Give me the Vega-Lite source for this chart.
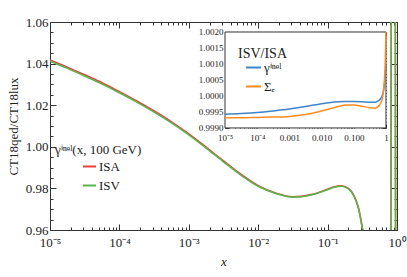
{
"$schema":"https://vega.github.io/schema/vega-lite/v6.json",
"width":347,"height":208,
"autosize":{"type":"none"},
"padding":{"left":50,"top":22,"right":10,"bottom":47},
"background":"white",
"config":{
  "view":{"stroke":"#333","strokeWidth":1},
  "font":"Liberation Serif",
  "axis":{"grid":false,"domain":false,"tickColor":"#333","tickWidth":1,"labelColor":"#222","titleColor":"#222","labelFont":"Liberation Serif","titleFont":"Liberation Serif","titleFontWeight":"normal","labelFlush":false,"labelOverlap":false,"labelBound":false,"zindex":1},
  "legend":{"labelFont":"Liberation Serif","titleFont":"Liberation Serif","titleFontWeight":"normal","labelColor":"#222","titleColor":"#222","padding":0}
},
"datasets":{
 "main":[
  {"x":0.00001,"v":1.0418,"s":"ISA"},{"x":0.0000177828,"v":1.0383,"s":"ISA"},{"x":0.0000316228,"v":1.0346,"s":"ISA"},{"x":0.0000562341,"v":1.0308,"s":"ISA"},
  {"x":0.0001,"v":1.0265,"s":"ISA"},{"x":0.000177828,"v":1.0220,"s":"ISA"},{"x":0.000316228,"v":1.0172,"s":"ISA"},{"x":0.000562341,"v":1.0120,"s":"ISA"},
  {"x":0.001,"v":1.0062,"s":"ISA"},{"x":0.00177828,"v":0.9998,"s":"ISA"},{"x":0.00316228,"v":0.9932,"s":"ISA"},{"x":0.00562341,"v":0.9868,"s":"ISA"},
  {"x":0.01,"v":0.9813,"s":"ISA"},{"x":0.0177828,"v":0.9778,"s":"ISA"},{"x":0.0316228,"v":0.9760,"s":"ISA"},{"x":0.0562341,"v":0.9769,"s":"ISA"},
  {"x":0.1,"v":0.9796,"s":"ISA"},{"x":0.125893,"v":0.9808,"s":"ISA"},{"x":0.158489,"v":0.9812,"s":"ISA"},{"x":0.199526,"v":0.9800,"s":"ISA"},
  {"x":0.239883,"v":0.9765,"s":"ISA"},{"x":0.281838,"v":0.9700,"s":"ISA"},{"x":0.316228,"v":0.9612,"s":"ISA"},{"x":0.354813,"v":0.9530,"s":"ISA"},
  {"x":0.446684,"v":0.93,"s":"ISA"},{"x":0.707946,"v":0.90,"s":"ISA"},{"x":0.812831,"v":0.90,"s":"ISA"},{"x":0.827942,"v":1.10,"s":"ISA"},
  {"x":0.944061,"v":1.10,"s":"ISA"},{"x":0.959401,"v":0.90,"s":"ISA"},{"x":1,"v":0.90,"s":"ISA"},
  {"x":0.00001,"v":1.0412,"s":"ISV"},{"x":0.0000177828,"v":1.0377,"s":"ISV"},{"x":0.0000316228,"v":1.0340,"s":"ISV"},{"x":0.0000562341,"v":1.0302,"s":"ISV"},
  {"x":0.0001,"v":1.02595,"s":"ISV"},{"x":0.000177828,"v":1.0215,"s":"ISV"},{"x":0.000316228,"v":1.0167,"s":"ISV"},{"x":0.000562341,"v":1.0115,"s":"ISV"},
  {"x":0.001,"v":1.00575,"s":"ISV"},{"x":0.00177828,"v":0.9994,"s":"ISV"},{"x":0.00316228,"v":0.9928,"s":"ISV"},{"x":0.00562341,"v":0.9864,"s":"ISV"},
  {"x":0.01,"v":0.9810,"s":"ISV"},{"x":0.0177828,"v":0.9776,"s":"ISV"},{"x":0.0316228,"v":0.9758,"s":"ISV"},{"x":0.0562341,"v":0.9767,"s":"ISV"},
  {"x":0.1,"v":0.9794,"s":"ISV"},{"x":0.125893,"v":0.9806,"s":"ISV"},{"x":0.158489,"v":0.9810,"s":"ISV"},{"x":0.199526,"v":0.9798,"s":"ISV"},
  {"x":0.239883,"v":0.9763,"s":"ISV"},{"x":0.281838,"v":0.9698,"s":"ISV"},{"x":0.316228,"v":0.9610,"s":"ISV"},{"x":0.354813,"v":0.9528,"s":"ISV"},
  {"x":0.446684,"v":0.93,"s":"ISV"},{"x":0.707946,"v":0.90,"s":"ISV"},{"x":0.812831,"v":0.90,"s":"ISV"},{"x":0.827942,"v":1.10,"s":"ISV"},
  {"x":0.944061,"v":1.10,"s":"ISV"},{"x":0.959401,"v":0.90,"s":"ISV"},{"x":1,"v":0.90,"s":"ISV"}
 ],
 "ratio":[
  {"x":0.00001,"r":0.99943,"s":"γⁱⁿᵉˡ"},{"x":0.0000316228,"r":0.99945,"s":"γⁱⁿᵉˡ"},{"x":0.0001,"r":0.99948,"s":"γⁱⁿᵉˡ"},{"x":0.000316228,"r":0.99953,"s":"γⁱⁿᵉˡ"},
  {"x":0.001,"r":0.99959,"s":"γⁱⁿᵉˡ"},{"x":0.00316228,"r":0.99967,"s":"γⁱⁿᵉˡ"},{"x":0.01,"r":0.99976,"s":"γⁱⁿᵉˡ"},{"x":0.0316228,"r":0.99982,"s":"γⁱⁿᵉˡ"},
  {"x":0.0562341,"r":0.99983,"s":"γⁱⁿᵉˡ"},{"x":0.1,"r":0.99983,"s":"γⁱⁿᵉˡ"},{"x":0.177828,"r":0.99982,"s":"γⁱⁿᵉˡ"},{"x":0.316228,"r":0.99980,"s":"γⁱⁿᵉˡ"},
  {"x":0.446684,"r":0.99980,"s":"γⁱⁿᵉˡ"},{"x":0.562341,"r":0.99984,"s":"γⁱⁿᵉˡ"},{"x":0.660693,"r":0.99990,"s":"γⁱⁿᵉˡ"},{"x":0.758578,"r":1.00000,"s":"γⁱⁿᵉˡ"},
  {"x":0.831764,"r":1.00015,"s":"γⁱⁿᵉˡ"},{"x":0.891251,"r":1.00035,"s":"γⁱⁿᵉˡ"},{"x":0.944061,"r":1.00060,"s":"γⁱⁿᵉˡ"},{"x":1,"r":1.00098,"s":"γⁱⁿᵉˡ"},
  {"x":0.00001,"r":0.99932,"s":"Σₑ"},{"x":0.0000316228,"r":0.99932,"s":"Σₑ"},{"x":0.0001,"r":0.99933,"s":"Σₑ"},{"x":0.000316228,"r":0.99934,"s":"Σₑ"},
  {"x":0.001,"r":0.99936,"s":"Σₑ"},{"x":0.00316228,"r":0.99942,"s":"Σₑ"},{"x":0.01,"r":0.99953,"s":"Σₑ"},{"x":0.0316228,"r":0.99966,"s":"Σₑ"},
  {"x":0.0562341,"r":0.99972,"s":"Σₑ"},{"x":0.1,"r":0.99972,"s":"Σₑ"},{"x":0.177828,"r":0.99968,"s":"Σₑ"},{"x":0.316228,"r":0.99963,"s":"Σₑ"},
  {"x":0.446684,"r":0.99962,"s":"Σₑ"},{"x":0.562341,"r":0.99966,"s":"Σₑ"},{"x":0.660693,"r":0.99975,"s":"Σₑ"},{"x":0.758578,"r":0.99990,"s":"Σₑ"},
  {"x":0.831764,"r":1.00015,"s":"Σₑ"},{"x":0.891251,"r":1.00050,"s":"Σₑ"},{"x":0.944061,"r":1.00100,"s":"Σₑ"},{"x":1,"r":1.00200,"s":"Σₑ"}
 ],
 "frame":[{"x0":0.00001,"x1":1,"y0":0.999,"y1":1.002}]
},
"layer":[
 {"data":{"name":"main"},
  "mark":{"type":"line","clip":true,"strokeWidth":1.6,"interpolate":"monotone"},
  "encoding":{
   "x":{"field":"x","type":"quantitative","scale":{"type":"log","domain":[0.00001,1],"nice":false},
        "axis":{"orient":"bottom","labelOverlap":false,"values":[0.00001,0.00002,0.00003,0.00004,0.00005,0.00006,0.00007,0.00008,0.00009,0.0001,0.0002,0.0003,0.0004,0.0005,0.0006,0.0007,0.0008,0.0009,0.001,0.002,0.003,0.004,0.005,0.006,0.007,0.008,0.009,0.01,0.02,0.03,0.04,0.05,0.06,0.07,0.08,0.09,0.1,0.2,0.3,0.4,0.5,0.6,0.7,0.8,0.9,1],
        "labelExpr":"datum.value === 0.00001 ? '10⁻⁵' : datum.value === 0.0001 ? '10⁻⁴' : datum.value === 0.001 ? '10⁻³' : datum.value === 0.01 ? '10⁻²' : datum.value === 0.1 ? '10⁻¹' : datum.value === 1 ? '10⁰' : ''",
        "tickSize":{"condition":{"test":"indexof([0.00001,0.0001,0.001,0.01,0.1,1], datum.value) >= 0","value":-6},"value":-3},
        "labelPadding":12,"labelFontSize":13,"title":"x","titleFontStyle":"italic","titleFontSize":13,"titlePadding":3}},
   "y":{"field":"v","type":"quantitative","scale":{"domain":[0.96,1.06],"nice":false,"zero":false},
        "axis":{"orient":"left","labelOverlap":false,"values":[0.96,0.965,0.97,0.975,0.98,0.985,0.99,0.995,1,1.005,1.01,1.015,1.02,1.025,1.03,1.035,1.04,1.045,1.05,1.055,1.06],
        "labelExpr":"indexof([0.96,0.98,1,1.02,1.04,1.06], datum.value) >= 0 ? format(datum.value, '.2f') : ''",
        "tickSize":{"condition":{"test":"indexof([0.96,0.98,1,1.02,1.04,1.06], datum.value) >= 0","value":-6},"value":-3},
        "labelPadding":8,"labelFontSize":13,"title":"CT18qed/CT18lux","titleFontSize":13,"titlePadding":5}},
   "color":{"field":"s","type":"nominal","scale":{"domain":["ISA","ISV"],"range":["#e8413c","#5cb34d"]},
        "legend":{"orient":"none","legendX":5,"legendY":122,"title":"γⁱⁿᵉˡ(x, 100 GeV)","titleFontSize":13,"titlePadding":2,"labelFontSize":13,"symbolType":"stroke","symbolStrokeWidth":2,"symbolSize":169,"symbolOffset":27,"rowPadding":4,"labelOffset":2}}
  }},
 {"data":{"name":"main"},
  "mark":{"type":"line","clip":true,"opacity":0},
  "encoding":{
   "x":{"field":"x","type":"quantitative","scale":{"type":"log","domain":[0.00001,1],"nice":false},
        "axis":{"orient":"top","values":[0.00001,0.00002,0.00003,0.00004,0.00005,0.00006,0.00007,0.00008,0.00009,0.0001,0.0002,0.0003,0.0004,0.0005,0.0006,0.0007,0.0008,0.0009,0.001,0.002,0.003,0.004,0.005,0.006,0.007,0.008,0.009,0.01,0.02,0.03,0.04,0.05,0.06,0.07,0.08,0.09,0.1,0.2,0.3,0.4,0.5,0.6,0.7,0.8,0.9,1],
        "labels":false,"title":null,
        "tickSize":{"condition":{"test":"indexof([0.00001,0.0001,0.001,0.01,0.1,1], datum.value) >= 0","value":-6},"value":-3}}},
   "y":{"field":"v","type":"quantitative","scale":{"domain":[0.96,1.06],"nice":false,"zero":false},
        "axis":{"orient":"right","values":[0.96,0.965,0.97,0.975,0.98,0.985,0.99,0.995,1,1.005,1.01,1.015,1.02,1.025,1.03,1.035,1.04,1.045,1.05,1.055,1.06],
        "labels":false,"title":null,
        "tickSize":{"condition":{"test":"indexof([0.96,0.98,1,1.02,1.04,1.06], datum.value) >= 0","value":-6},"value":-3}}}
  }},
 {"layer":[
   {"data":{"name":"frame"},
    "mark":{"type":"rect","fill":"white","stroke":"#333","strokeWidth":1},
    "encoding":{
     "x":{"field":"x0","type":"quantitative","scale":{"type":"log","domain":[3.673e-11,2.196],"nice":false},"axis":null},
     "x2":{"field":"x1"},
     "y":{"field":"y0","type":"quantitative","scale":{"domain":[0.99581,1.0023125],"nice":false,"zero":false},"axis":null},
     "y2":{"field":"y1"}
    }},
   {"data":{"name":"ratio"},
    "mark":{"type":"line","strokeWidth":1.5,"interpolate":"monotone"},
    "encoding":{
     "x":{"field":"x","type":"quantitative","axis":null},
     "y":{"field":"r","type":"quantitative","axis":null},
     "color":{"field":"s","type":"nominal","scale":{"domain":["γⁱⁿᵉˡ","Σₑ"],"range":["#3f84c6","#ff8c1f"]},
          "legend":{"orient":"none","legendX":188,"legendY":25,"title":"ISV/ISA","titleFontSize":14,"titlePadding":-2,"labelFontSize":13,"symbolType":"stroke","symbolStrokeWidth":2,"symbolSize":225,"symbolOffset":7,"rowPadding":3,"labelOffset":2}}
    }}
  ]},
 {"data":{"name":"frame"},
  "mark":{"type":"rect","opacity":0},
  "encoding":{
   "x":{"field":"x0","type":"quantitative","scale":{"type":"log","domain":[3.673e-11,2.196],"nice":false},
        "axis":{"orient":"bottom","offset":-102,"labelOverlap":false,"values":[0.00001,0.0001,0.001,0.01,0.1,1],
        "labelExpr":"datum.value === 0.00001 ? '10⁻⁵' : datum.value === 0.0001 ? '10⁻⁴' : datum.value === 0.001 ? '0.001' : datum.value === 0.01 ? '0.010' : datum.value === 0.1 ? '0.100' : '1'",
        "tickSize":-4,"labelPadding":9,"labelFontSize":9,"title":null}},
   "x2":{"field":"x1"},
   "y":{"field":"y0","type":"quantitative","scale":{"domain":[0.99581,1.0023125],"nice":false,"zero":false},
        "axis":{"orient":"left","offset":-175,"labelOverlap":false,"values":[0.999,0.9995,1,1.0005,1.001,1.0015,1.002],
        "format":".4f","tickSize":-4,"labelPadding":6,"labelFontSize":9,"title":null}},
   "y2":{"field":"y1"}
  }},
 {"data":{"name":"frame"},
  "mark":{"type":"rect","opacity":0},
  "encoding":{
   "x":{"field":"x0","type":"quantitative","scale":{"type":"log","domain":[3.673e-11,2.196],"nice":false},
        "axis":{"orient":"top","offset":-10,"values":[0.00001,0.00002,0.00003,0.00004,0.00005,0.00006,0.00007,0.00008,0.00009,0.0001,0.0002,0.0003,0.0004,0.0005,0.0006,0.0007,0.0008,0.0009,0.001,0.002,0.003,0.004,0.005,0.006,0.007,0.008,0.009,0.01,0.02,0.03,0.04,0.05,0.06,0.07,0.08,0.09,0.1,0.2,0.3,0.4,0.5,0.6,0.7,0.8,0.9,1],
        "labels":false,"title":null,
        "tickSize":{"condition":{"test":"indexof([0.00001,0.0001,0.001,0.01,0.1,1], datum.value) >= 0","value":-4},"value":-2}}},
   "x2":{"field":"x1"},
   "y":{"field":"y0","type":"quantitative","scale":{"domain":[0.99581,1.0023125],"nice":false,"zero":false},
        "axis":{"orient":"right","offset":-11,"values":[0.999,0.9991,0.9992,0.9993,0.9994,0.9995,0.9996,0.9997,0.9998,0.9999,1,1.0001,1.0002,1.0003,1.0004,1.0005,1.0006,1.0007,1.0008,1.0009,1.001,1.0011,1.0012,1.0013,1.0014,1.0015,1.0016,1.0017,1.0018,1.0019,1.002],
        "labels":false,"title":null,
        "tickSize":{"condition":{"test":"abs(datum.value*2000 - round(datum.value*2000)) < 0.000001","value":-4},"value":-2}}},
   "y2":{"field":"y1"}
  }},
 {"data":{"name":"frame"},
  "mark":{"type":"rect","opacity":0},
  "encoding":{
   "x":{"field":"x0","type":"quantitative","scale":{"type":"log","domain":[3.673e-11,2.196],"nice":false},
        "axis":{"orient":"bottom","offset":-102,"values":[0.00002,0.00003,0.00004,0.00005,0.00006,0.00007,0.00008,0.00009,0.0002,0.0003,0.0004,0.0005,0.0006,0.0007,0.0008,0.0009,0.002,0.003,0.004,0.005,0.006,0.007,0.008,0.009,0.02,0.03,0.04,0.05,0.06,0.07,0.08,0.09,0.2,0.3,0.4,0.5,0.6,0.7,0.8,0.9],
        "labels":false,"title":null,"tickSize":-2}},
   "x2":{"field":"x1"},
   "y":{"field":"y0","type":"quantitative","scale":{"domain":[0.99581,1.0023125],"nice":false,"zero":false},
        "axis":{"orient":"left","offset":-175,"values":[0.9991,0.9992,0.9993,0.9994,0.9996,0.9997,0.9998,0.9999,1.0001,1.0002,1.0003,1.0004,1.0006,1.0007,1.0008,1.0009,1.0011,1.0012,1.0013,1.0014,1.0016,1.0017,1.0018,1.0019],
        "labels":false,"title":null,"tickSize":-2}},
   "y2":{"field":"y1"}
  }}
],
"resolve":{"scale":{"x":"independent","y":"independent","color":"independent"},"axis":{"x":"independent","y":"independent"},"legend":{"color":"independent"}}
}
